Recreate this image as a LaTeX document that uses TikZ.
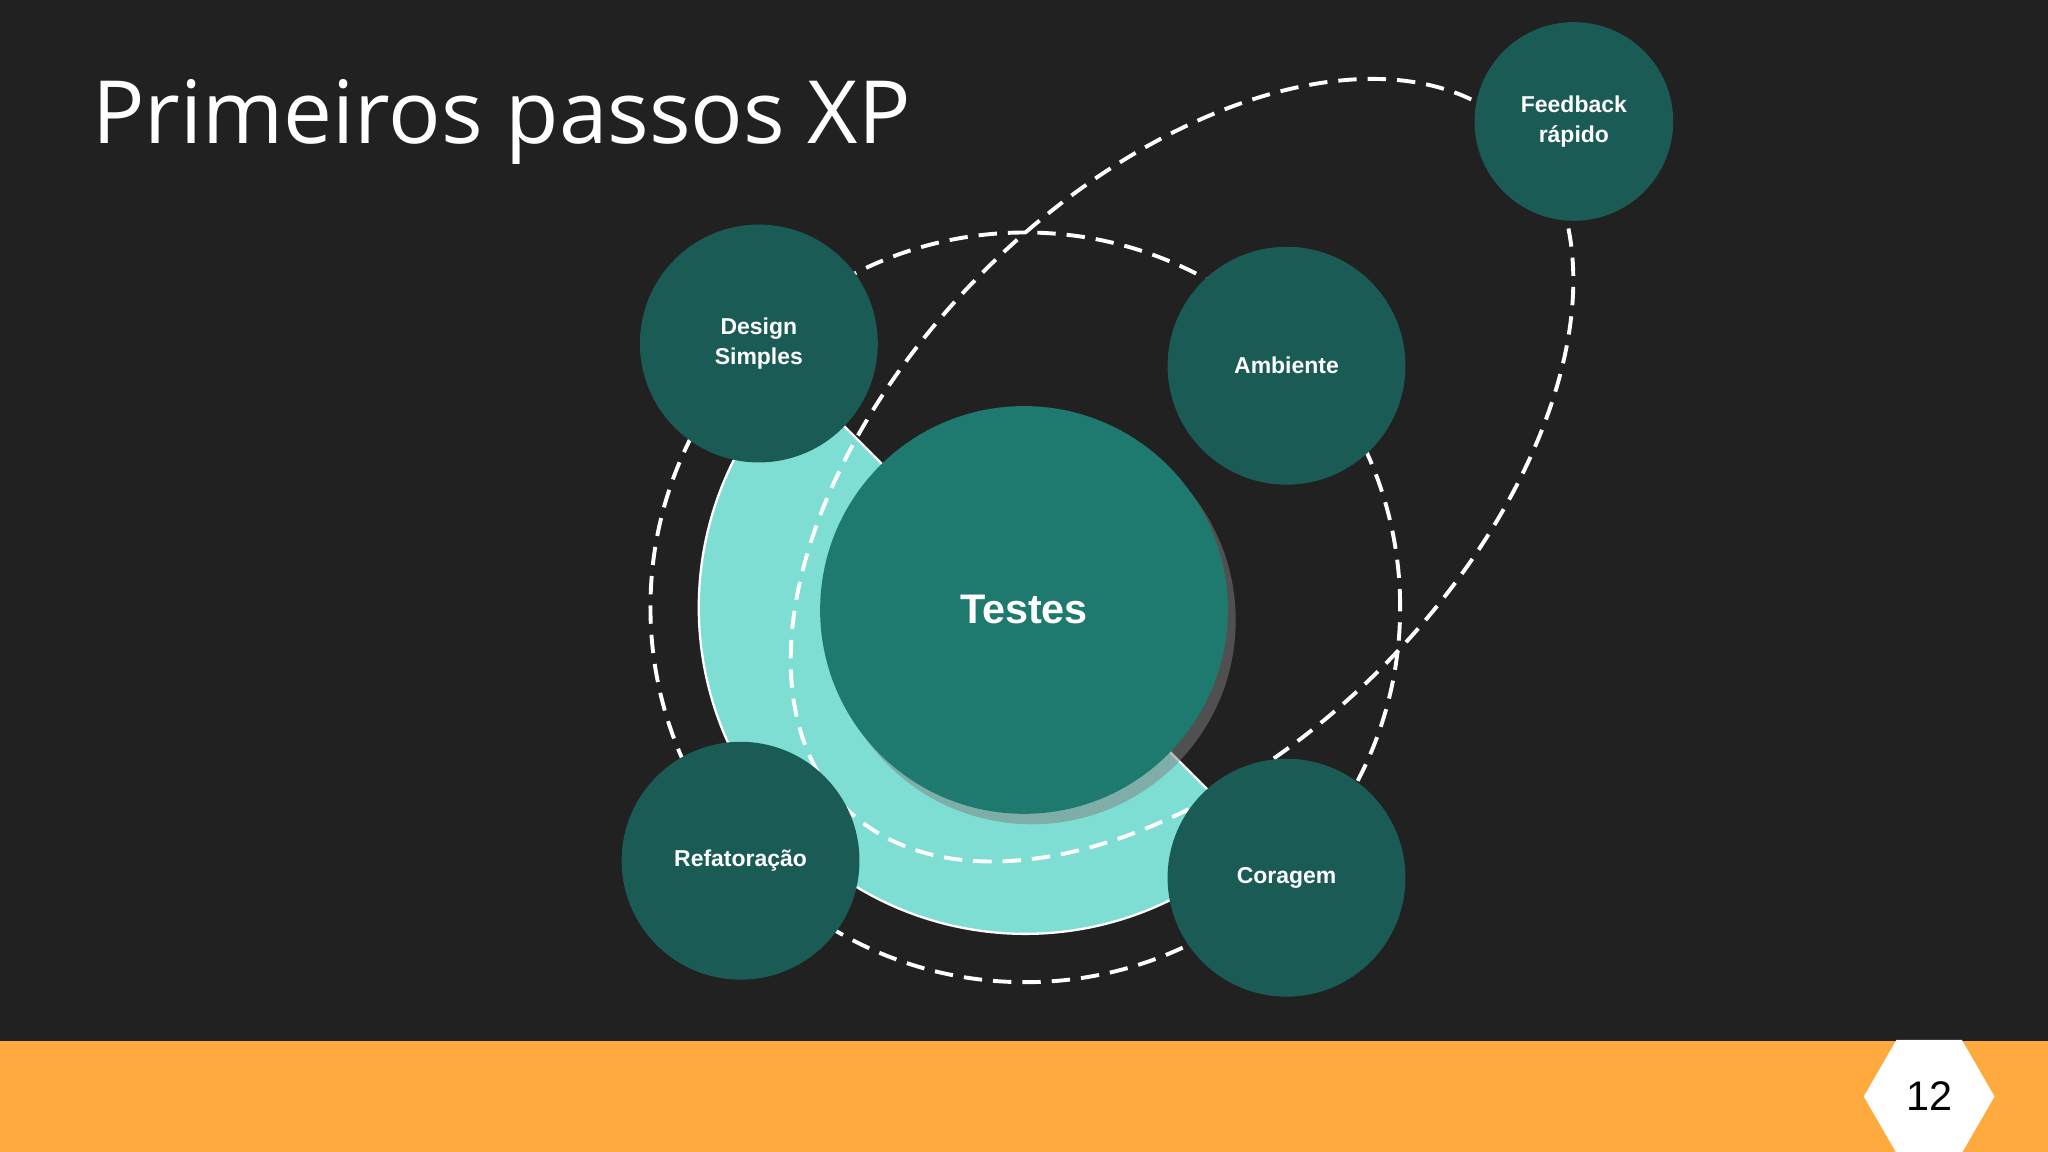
\documentclass[tikz,border=0pt]{standalone}
\usepackage{fontspec}
\setmainfont{Liberation Sans}
\newfontfamily\titlefont{Open Sans}
\usetikzlibrary{shadows,shapes.geometric}
\definecolor{bg}{HTML}{212121}
\definecolor{bar}{HTML}{FFAA3F}
\definecolor{ring}{HTML}{7FDED4}
\definecolor{big}{HTML}{1E7A6E}
\definecolor{small}{HTML}{1A5C55}
\tikzset{
 dashline/.style={draw=white,line width=0.85pt,dash pattern=on 4pt off 2.4pt},
 bubble/.style={circle,fill=small,text=white,font=\bfseries\fontsize{5}{6.5}\selectfont,align=center,inner sep=0pt},
}
\begin{document}
\begin{tikzpicture}[x=0.01cm,y=0.01cm]
\fill[bg] (0,0) rectangle (1568,-882);
\useasboundingbox (0,0) rectangle (1568,-882);
\fill[bar] (0,-797) rectangle (1568,-882);
\node[regular polygon,regular polygon sides=6,fill=white,minimum size=1.0cm,inner sep=0pt,text=black,font=\fontsize{9}{10}\selectfont] (pg) at (1477,-839.5) {12};
\node[anchor=base west,text=white,font=\titlefont\fontsize{19}{22}\selectfont,inner sep=0pt] (title) at (70,-110) {Primeiros passos XP};
% ring half disk
\fill[ring,draw=white,line width=0.5pt] (785,-465) ++(135:250) arc (135:315:250) -- cycle;
% dashed circles
\draw[dashline] (785,-465) circle (287);
\draw[dashline,rotate around={45:(905,-360)}] (905,-360) ellipse (365 and 215);
\node[circle,fill=big,minimum size=3.12cm,inner sep=0pt,text=white,font=\bfseries\fontsize{9}{10}\selectfont,drop shadow={shadow xshift=0.06cm,shadow yshift=-0.08cm,opacity=0.5}] (testes) at (784,-467) {Testes};
\node[bubble,minimum size=1.82cm] (design) at (581,-263) {Design\\Simples};
\node[bubble,minimum size=1.82cm] (amb) at (985,-280) {Ambiente};
\node[bubble,minimum size=1.82cm] (ref) at (567,-659) {Refatoração};
\node[bubble,minimum size=1.82cm] (cor) at (985,-672) {Coragem};
\node[bubble,minimum size=1.52cm] (fb) at (1205,-93) {Feedback\\rápido};
\end{tikzpicture}
\end{document}
